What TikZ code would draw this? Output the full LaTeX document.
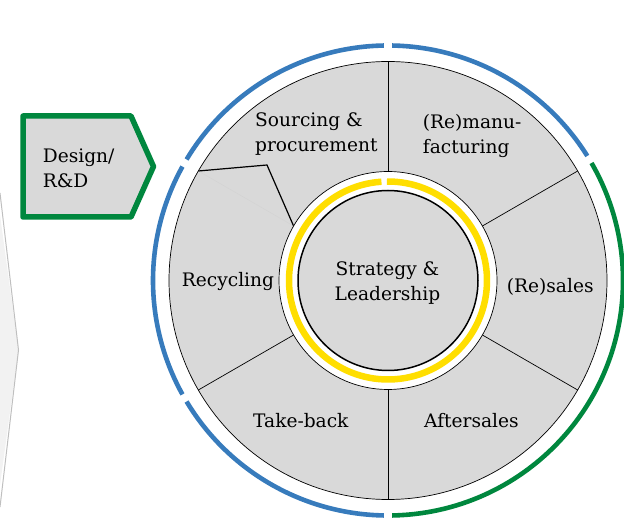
\documentclass[tikz,border=0pt]{standalone}
\usepackage{fontspec}
\setmainfont{DejaVu Serif}
\usetikzlibrary{calc}
\definecolor{sectorfill}{RGB}{217,217,217}
\definecolor{chevfill}{RGB}{242,242,242}
\definecolor{chevline}{RGB}{191,191,191}
\definecolor{ringblue}{RGB}{55,123,188}
\definecolor{ringgreen}{RGB}{0,135,62}
\definecolor{ringyellow}{RGB}{255,222,0}
\begin{document}
\begin{tikzpicture}[x=1pt,y=1pt,
  lbl/.style={font=\fontsize{18.6}{24.8}\selectfont, inner sep=0pt, align=left, text=black},
  sectorline/.style={black, line width=0.7pt},
  ringarc/.style={line width=4.6pt, line cap=butt},
]
\useasboundingbox (0,0) rectangle (624,519);
% left chevron (partly outside the picture)
\fill[chevfill] (-3,326) -- (18.5,169) -- (-3,12) -- cycle;
\draw[chevline, line width=1pt] (0,326) -- (18.5,169) -- (0,12);

\coordinate (C) at (388,238.5);
% sector disc
\filldraw[fill=sectorfill, draw=black, line width=0.7pt] (C) circle (219);
\foreach \a in {30,90,210,270,330}
  \draw[sectorline, shift={(C)}] (\a:109) -- (\a:219);
\draw[shift={(C)}, black!18, line width=0.3pt] (150:109) -- (150:219);
\coordinate (kout) at ($(C)+(150:219)$);
\coordinate (kink) at (267,354);
\coordinate (kin) at ($(C)+(150:109)$);
\draw[black, line width=1.2pt, line join=miter] (kout) -- (kink) -- (kin);

% inner white ring, yellow ring and centre disc
\filldraw[fill=white, draw=black, line width=0.7pt] (C) circle (109);
\draw[ringyellow, line width=6.5pt, shift={(C)}] (93.8:99) arc[start angle=93.8, end angle=450.6, radius=99];
\filldraw[fill=sectorfill, draw=black, line width=1.5pt] (C) circle (90);

% outer ring arcs
\begin{scope}[shift={(C)}]
\draw[ringarc, ringgreen] (-89:235) arc[start angle=-89, end angle=30, radius=235];
\draw[ringarc, ringblue] (32:235) arc[start angle=32, end angle=89, radius=235];
\draw[ringarc, ringblue] (91:235) arc[start angle=91, end angle=149, radius=235];
\draw[ringarc, ringblue] (151:235) arc[start angle=151, end angle=209, radius=235];
\draw[ringarc, ringblue] (211:235) arc[start angle=211, end angle=269, radius=235];
\end{scope}

% Design / R&D pentagon
\filldraw[fill=sectorfill, draw=ringgreen, line width=5.5pt, line join=round]
  (23,403) -- (131,403) -- (153.5,352.5) -- (131,302) -- (23,302) -- cycle;
\node[lbl, anchor=base west] (design) at (42.7,331.7) {Design/\\R\&D};

% labels
\node[lbl, anchor=base west] (src) at (255,367.3) {Sourcing \&\\procurement};
\node[lbl, anchor=base west] (manu) at (422.7,365.7) {(Re)manu-\\facturing};
\node[lbl, anchor=base west] (recy) at (181.7,232.3) {Recycling};
\node[lbl, anchor=base west] (sales) at (506.7,226.5) {(Re)sales};
\node[lbl, anchor=base west] (take) at (253,91.3) {Take-back};
\node[lbl, anchor=base west] (after) at (424,91.3) {Aftersales};
\node[lbl, align=center, anchor=base] (strat) at (387.5,218.3) {Strategy \&\\Leadership};
\end{tikzpicture}
\end{document}
